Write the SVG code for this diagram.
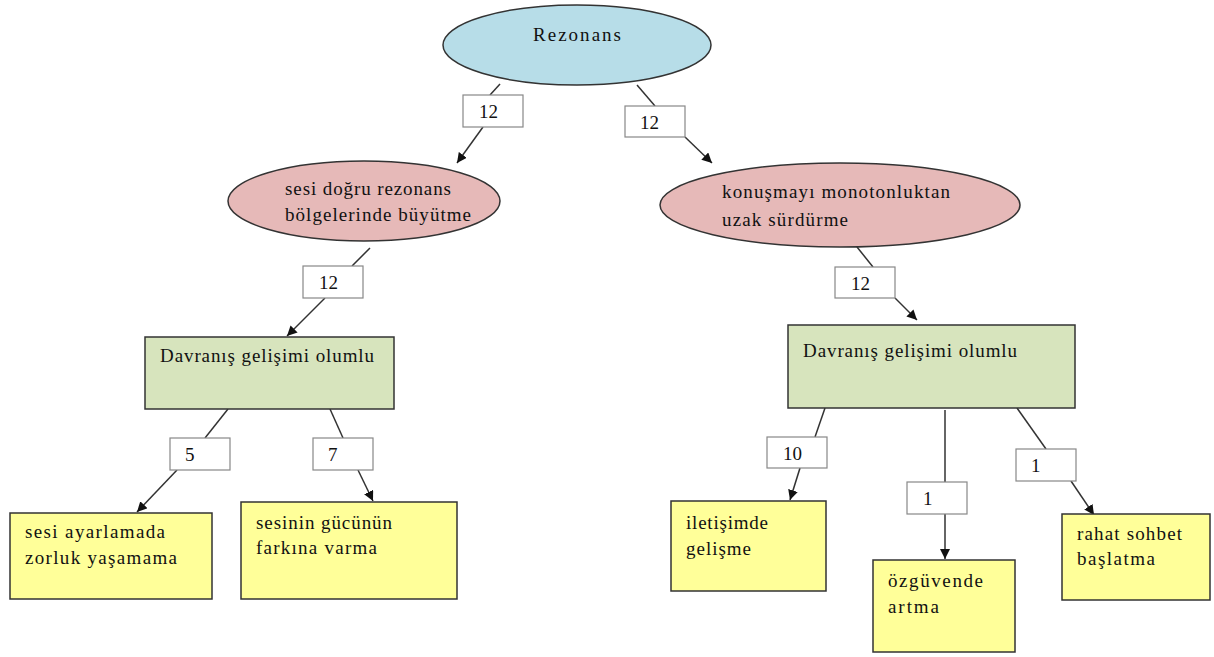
<svg xmlns="http://www.w3.org/2000/svg" width="1214" height="657" viewBox="0 0 1214 657">
<defs>
<marker id="arr" viewBox="0 0 10 10" refX="10" refY="5" markerWidth="10" markerHeight="10" markerUnits="userSpaceOnUse" orient="auto">
<path d="M0,0 L10,5 L0,10 z" fill="#111"/>
</marker>
</defs>
<style>
text{font-family:"Liberation Serif","Times New Roman",serif;font-size:19px;fill:#111}
.ln{stroke:#333;stroke-width:1.5;fill:none}
.ar{stroke:#333;stroke-width:1.5;fill:none;marker-end:url(#arr)}
.lb{fill:#fff;stroke:#888;stroke-width:1.2}
.blue{fill:#b7dde8;stroke:#333;stroke-width:1.5}
.pink{fill:#e6b9b8;stroke:#333;stroke-width:1.5}
.green{fill:#d7e4bd;stroke:#333;stroke-width:1.5}
.yel{fill:#ffff99;stroke:#333;stroke-width:1.5}
</style>
<rect width="1214" height="657" fill="#fff"/>
<g id="connectors">
<line class="ln" x1="500" y1="84" x2="490" y2="95"/>
<line class="ar" x1="483" y1="127" x2="457" y2="163"/>
<line class="ln" x1="637" y1="85" x2="655" y2="106"/>
<line class="ar" x1="685" y1="137" x2="712" y2="163"/>
<line class="ln" x1="370" y1="248" x2="352" y2="266"/>
<line class="ar" x1="325" y1="298" x2="287" y2="336"/>
<line class="ln" x1="228" y1="409" x2="205" y2="438"/>
<line class="ar" x1="177" y1="470" x2="137" y2="512"/>
<line class="ln" x1="330" y1="409" x2="343" y2="438"/>
<line class="ar" x1="358" y1="470" x2="373" y2="501"/>
<line class="ln" x1="857" y1="247" x2="873" y2="267"/>
<line class="ar" x1="895" y1="298" x2="917" y2="320"/>
<line class="ln" x1="825" y1="408" x2="815" y2="437"/>
<line class="ar" x1="800" y1="468" x2="790" y2="500"/>
<line class="ln" x1="945" y1="410" x2="945" y2="482"/>
<line class="ar" x1="945" y1="514" x2="945" y2="559"/>
<line class="ln" x1="1017" y1="408" x2="1046" y2="449"/>
<line class="ar" x1="1071" y1="481" x2="1094" y2="515"/>
<rect class="lb" x="463" y="95" width="60" height="32"/><text x="479" y="118">12</text>
<rect class="lb" x="625" y="106" width="60" height="31"/><text x="640" y="129">12</text>
<rect class="lb" x="303" y="266" width="60" height="32"/><text x="319" y="289">12</text>
<rect class="lb" x="170" y="438" width="60" height="32"/><text x="185" y="461">5</text>
<rect class="lb" x="313" y="438" width="60" height="32"/><text x="328" y="461">7</text>
<rect class="lb" x="835" y="267" width="60" height="31"/><text x="851" y="290">12</text>
<rect class="lb" x="767" y="437" width="60" height="31"/><text x="783" y="460">10</text>
<rect class="lb" x="907" y="482" width="60" height="32"/><text x="923" y="505">1</text>
<rect class="lb" x="1016" y="449" width="60" height="32"/><text x="1031" y="472">1</text>
</g>
<g id="rezonans">
<ellipse class="blue" cx="577" cy="45" rx="134" ry="40"/>
<text x="533" y="41" textLength="88" lengthAdjust="spacing">Rezonans</text>
</g>
<g id="sesi-dogru">
<ellipse class="pink" cx="364" cy="201" rx="136" ry="40"/>
<text x="285" y="195" textLength="166" lengthAdjust="spacing">sesi doğru rezonans</text>
<text x="285" y="221" textLength="186" lengthAdjust="spacing">bölgelerinde büyütme</text>
</g>
<g id="konusmayi">
<ellipse class="pink" cx="840" cy="205" rx="180" ry="42"/>
<text x="722" y="198" textLength="228" lengthAdjust="spacing">konuşmayı monotonluktan</text>
<text x="722" y="226" textLength="126" lengthAdjust="spacing">uzak sürdürme</text>
</g>
<g id="davranis-sol">
<rect class="green" x="145" y="337" width="249" height="72"/>
<text x="160" y="362" textLength="214" lengthAdjust="spacing">Davranış gelişimi olumlu</text>
</g>
<g id="davranis-sag">
<rect class="green" x="788" y="325" width="287" height="83"/>
<text x="803" y="357" textLength="214" lengthAdjust="spacing">Davranış gelişimi olumlu</text>
</g>
<g id="sesi-ayarlamada">
<rect class="yel" x="10" y="513" width="202" height="86"/>
<text x="25" y="538" textLength="140" lengthAdjust="spacing">sesi ayarlamada</text>
<text x="25" y="564" textLength="152" lengthAdjust="spacing">zorluk yaşamama</text>
</g>
<g id="sesinin-gucunun">
<rect class="yel" x="241" y="502" width="216" height="97"/>
<text x="256" y="529" textLength="136" lengthAdjust="spacing">sesinin gücünün</text>
<text x="256" y="554" textLength="121" lengthAdjust="spacing">farkına varma</text>
</g>
<g id="iletisimde">
<rect class="yel" x="671" y="501" width="155" height="90"/>
<text x="686" y="529" textLength="82" lengthAdjust="spacing">iletişimde</text>
<text x="686" y="555" textLength="65" lengthAdjust="spacing">gelişme</text>
</g>
<g id="ozguvende">
<rect class="yel" x="873" y="560" width="142" height="92"/>
<text x="888" y="587" textLength="95" lengthAdjust="spacing">özgüvende</text>
<text x="888" y="613" textLength="51" lengthAdjust="spacing">artma</text>
</g>
<g id="rahat-sohbet">
<rect class="yel" x="1062" y="514" width="148" height="86"/>
<text x="1077" y="540" textLength="105" lengthAdjust="spacing">rahat sohbet</text>
<text x="1077" y="565" textLength="78" lengthAdjust="spacing">başlatma</text>
</g>
</svg>
